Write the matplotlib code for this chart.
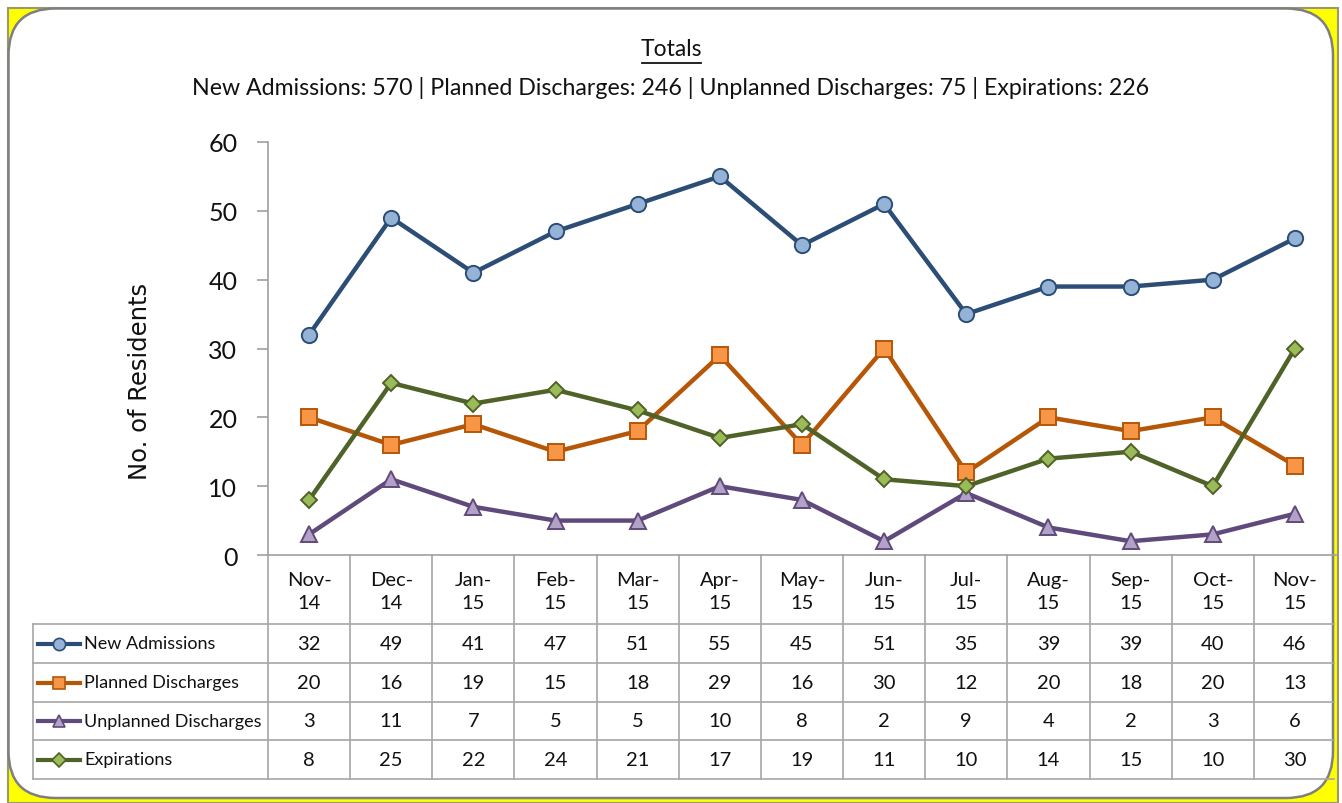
import matplotlib
matplotlib.use("Agg")
import matplotlib.pyplot as plt
import matplotlib.transforms as mtransforms
from matplotlib.patches import FancyBboxPatch, Rectangle
from matplotlib.lines import Line2D

months = ["Nov-\n14", "Dec-\n14", "Jan-\n15", "Feb-\n15", "Mar-\n15", "Apr-\n15", "May-\n15",
          "Jun-\n15", "Jul-\n15", "Aug-\n15", "Sep-\n15", "Oct-\n15", "Nov-\n15"]
new_admissions = [32, 49, 41, 47, 51, 55, 45, 51, 35, 39, 39, 40, 46]
planned = [20, 16, 19, 15, 18, 29, 16, 30, 12, 20, 18, 20, 13]
unplanned = [3, 11, 7, 5, 5, 10, 8, 2, 9, 4, 2, 3, 6]
expirations = [8, 25, 22, 24, 21, 17, 19, 11, 10, 14, 15, 10, 30]
series_names = ["New Admissions", "Planned Discharges", "Unplanned Discharges", "Expirations"]
y_ticks = [0, 10, 20, 30, 40, 50, 60]

series = [new_admissions, planned, unplanned, expirations]
styles = [
    dict(color="#2C4D75", marker="o", mfc="#95B3D7", ms=11),
    dict(color="#B65708", marker="s", mfc="#F79646", ms=11),
    dict(color="#604A7B", marker="^", mfc="#B3A2C7", ms=11),
    dict(color="#4F6228", marker="D", mfc="#9BBB59", ms=8.5),
]

plt.rcParams['font.family'] = ['Lato', 'DejaVu Sans']
W, H = 1342, 804
fig = plt.figure(figsize=(W / 100, H / 100), dpi=100)
fig.patch.set_facecolor("white")

def fx(px):
    return px / W

def fy(py):
    return (H - py) / H

# background frame
fig.add_artist(Rectangle((fx(8), 0), fx(1338) - fx(8), fy(9), transform=fig.transFigure,
                         facecolor="#FFFF00", edgecolor="#9A9A72", lw=1.5, zorder=0))
fig.add_artist(FancyBboxPatch((fx(8.5), fy(799)), fx(1333) - fx(8.5), fy(9.5) - fy(799),
                              boxstyle="round,pad=0,rounding_size=0.035",
                              mutation_aspect=W / H,
                              transform=fig.transFigure, facecolor="white",
                              edgecolor="#7F7F7F", lw=1.8, zorder=0.5))

ax = fig.add_axes([fx(268), fy(556), fx(1336) - fx(268), fy(143) - fy(556)])
ax.set_zorder(3)
ax.set_facecolor("none")
x = list(range(len(months)))
for vals, st in zip(series, styles):
    ax.plot(x, vals, color=st["color"], lw=3.2, marker=st["marker"], ms=st["ms"],
            mfc=st["mfc"], mec=st["color"], mew=1.4, zorder=3, clip_on=False)

ax.set_xlim(-0.5, len(months) - 0.5)
ax.set_ylim(0, 60)
ax.set_yticks(y_ticks)
ax.set_yticklabels([str(v) for v in y_ticks], fontsize=18, color="#111111")
ax.set_xticks([])
for s in ["top", "right"]:
    ax.spines[s].set_visible(False)
ax.spines["left"].set_color("#A0A0A0")
ax.spines["bottom"].set_color("#A0A0A0")
ax.spines["left"].set_linewidth(1.2)
ax.spines["bottom"].set_linewidth(1.2)
ax.tick_params(axis="y", direction="out", length=8, color="#A0A0A0", width=1.2, pad=14)
ax.set_ylabel("No. of Residents", fontsize=17.5, color="#111111",
              family="DejaVu Sans", va="center")
ax.yaxis.set_label_coords((140 - 268) / 1068, (556 - 381) / 413)

# titles
fig.text(0.5, fy(50), "Totals", ha="center", va="center", fontsize=16.5, color="#111111")
fig.add_artist(Line2D([fx(642), fx(701)], [fy(64), fy(64)], transform=fig.transFigure,
                      color="#111111", lw=1.3))
fig.text(0.5, fy(88), "New Admissions: 570 | Planned Discharges: 246 | Unplanned Discharges: 75 | Expirations: 226",
         ha="center", va="center", fontsize=16.7, color="#111111")

# data table
bt = mtransforms.blended_transform_factory(ax.transData, fig.transFigure)
gc = "#A6A6A6"
row_lines = [625, 664, 703, 741, 780]
row_centers = [644.5, 683.5, 722, 760.5]
n = len(months)
for py in row_lines:
    fig.add_artist(Line2D([fx(33), fx(1334)], [fy(py), fy(py)], transform=fig.transFigure,
                          color=gc, lw=1.2, zorder=2))
fig.add_artist(Line2D([fx(33), fx(33)], [fy(625), fy(780)], transform=fig.transFigure,
                      color=gc, lw=1.2, zorder=2))
for i in range(n):
    fig.add_artist(Line2D([i - 0.5, i - 0.5], [fy(556), fy(780)], transform=bt,
                          color=gc, lw=1.2, zorder=2))
for i, m in enumerate(months):
    fig.text(i, fy(592), m, transform=bt, ha="center", va="center", fontsize=14.5,
             color="#111111", linespacing=1.45, zorder=2)
for r, (vals, st, name) in enumerate(zip(series, styles, series_names)):
    yc = fy(row_centers[r])
    for i, v in enumerate(vals):
        fig.text(i, yc, str(v), transform=bt, ha="center", va="center", fontsize=14.5,
                 color="#111111", zorder=2)
    fig.add_artist(Line2D([fx(38), fx(80)], [yc, yc], transform=fig.transFigure,
                          color=st["color"], lw=3.0, zorder=2))
    fig.add_artist(Line2D([fx(59)], [yc], transform=fig.transFigure, color=st["color"],
                          marker=st["marker"], ms=st["ms"] * 0.8, mfc=st["mfc"],
                          mec=st["color"], mew=1.2, zorder=2))
    fig.text(fx(84), yc, name, ha="left", va="center", fontsize=13, color="#111111",
             zorder=2)

fig.savefig("out.png", dpi=100)
